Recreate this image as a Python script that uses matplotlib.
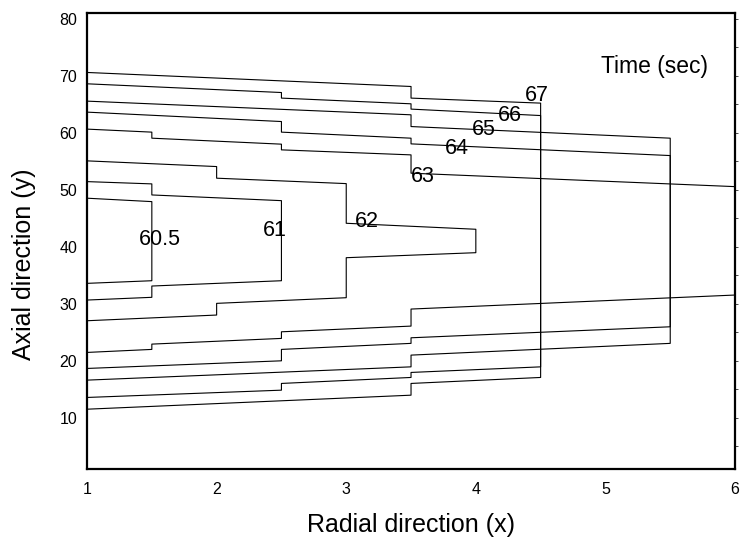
import matplotlib
matplotlib.use('Agg')
import matplotlib.pyplot as plt
from matplotlib.ticker import FixedLocator

plt.rcParams['font.family'] = ['Liberation Sans', 'DejaVu Sans']

# contour polylines (radial x, axial y)
x_605 = [1.0, 1.5, 1.5, 1.0]
y_605 = [48.51, 47.91, 34.03, 33.57]

x_61 = [1.0, 1.5, 1.5, 2.5, 2.5, 1.5, 1.5, 1.0]
y_61 = [51.42, 51.02, 49.08, 48.08, 34.03, 33.10, 31.12, 30.64]

x_62 = [1.0, 2.0, 2.0, 3.0, 3.0, 4.0, 4.0, 3.0, 3.0, 2.0, 2.0, 1.0]
y_62 = [55.06, 54.06, 52.02, 51.07, 44.11, 43.06, 38.95, 38.07, 31.05, 30.06, 28.01, 27.01]

x_63_top = [1.0, 1.5, 1.5, 2.5, 2.5, 3.5, 3.5, 6.0]
y_63_top = [60.63, 60.10, 59.04, 57.99, 56.99, 56.11, 52.90, 50.54]
x_63_bot = [6.0, 3.5, 3.5, 2.5, 2.5, 1.5, 1.5, 1.0]
y_63_bot = [31.52, 29.06, 26.07, 25.07, 23.91, 22.91, 21.98, 21.45]

x_64 = [1.0, 2.5, 2.5, 3.5, 3.5, 5.5, 5.5, 3.5, 3.5, 2.5, 2.5, 1.0]
y_64 = [63.61, 61.96, 60.10, 59.04, 58.04, 55.99, 25.95, 24.02, 23.04, 21.98, 19.98, 18.64]

x_65 = [1.0, 3.5, 3.5, 5.5, 5.5, 3.5, 3.5, 1.0]
y_65 = [65.54, 63.14, 61.08, 59.04, 23.04, 20.98, 18.92, 16.59]

x_66 = [1.0, 2.5, 2.5, 3.5, 3.5, 4.5, 4.5, 3.5, 3.5, 2.5, 2.5, 1.0]
y_66 = [68.58, 67.05, 66.07, 65.07, 64.14, 63.01, 18.92, 17.94, 17.06, 16.01, 14.83, 13.55]

x_67 = [1.0, 3.5, 3.5, 4.5, 4.5, 3.5, 3.5, 1.0]
y_67 = [70.57, 68.11, 66.07, 65.19, 17.06, 16.01, 13.95, 11.49]

# contour labels and where they sit
labels = ['60.5', '61', '62', '63', '64', '65', '66', '67']
label_x = [1.56, 2.45, 3.16, 3.59, 3.85, 4.06, 4.26, 4.47]
label_y = [41.2, 42.8, 44.5, 52.4, 57.2, 60.5, 63.0, 66.5]

yticks = [10, 20, 30, 40, 50, 60, 70, 80]
yticks_minor = [5, 15, 25, 35, 45, 55, 65, 75]
xticks = [1, 2, 3, 4, 5, 6]


fig = plt.figure(figsize=(7.42, 5.40), dpi=100)
ax = fig.add_axes([0.1173, 0.1315, 0.8733, 0.8444])

lines = [(x_605, y_605), (x_61, y_61), (x_62, y_62), (x_63_top, y_63_top),
         (x_63_bot, y_63_bot), (x_64, y_64), (x_65, y_65), (x_66, y_66), (x_67, y_67)]
for xs, ys in lines:
    ax.plot(xs, ys, color='black', linewidth=0.8)

for t, tx, ty in zip(labels, label_x, label_y):
    ax.text(tx, ty, t, fontsize=15.5, ha='center', va='center')

ax.text(5.38, 71.7, 'Time (sec)', fontsize=16.5, ha='center', va='center')

ax.set_xlim(1, 6)
ax.set_ylim(1, 81)
ax.set_xticks(xticks)
ax.set_yticks(yticks)
ax.yaxis.set_minor_locator(FixedLocator(yticks_minor))
ax.tick_params(axis='y', which='both', left=False, right=True, length=2,
               width=0.5, direction='out', labelsize=11.5, pad=5)
ax.tick_params(axis='x', which='both', bottom=False, top=False, labelsize=11.5, pad=6)

for s in ax.spines.values():
    s.set_linewidth(1.6)

ax.set_xlabel('Radial direction (x)', fontsize=18, labelpad=11.5)
ax.set_ylabel('Axial direction (y)', fontsize=18)
ax.yaxis.set_label_coords(-0.079, 0.45)

fig.savefig('out.png', dpi=100)
